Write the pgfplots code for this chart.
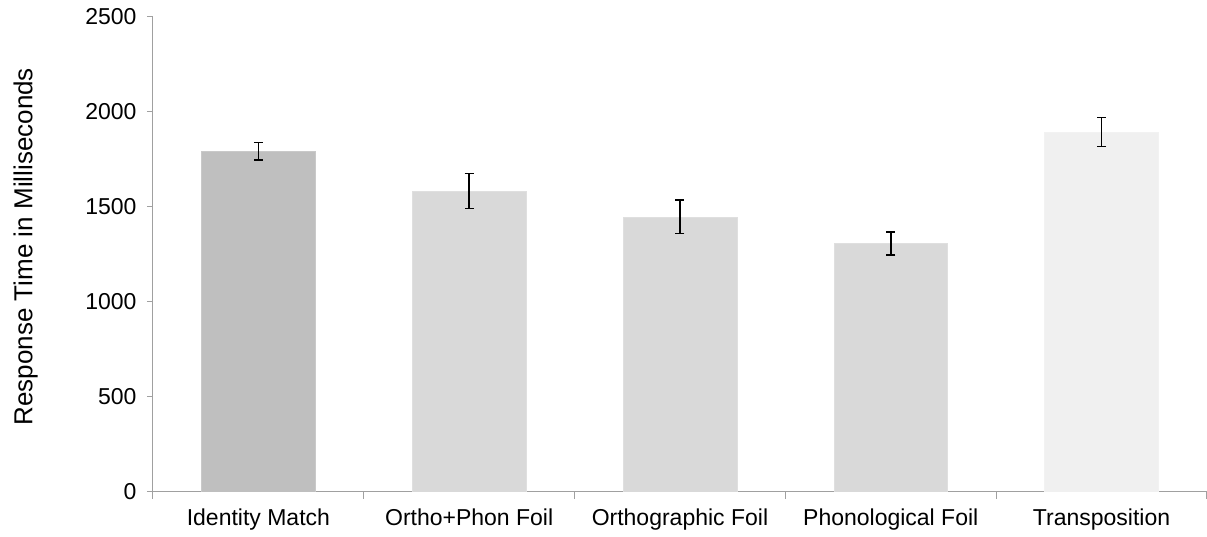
\documentclass[border=0pt]{standalone}
\usepackage{pgfplots}
\pgfplotsset{compat=1.18}
\usepackage{fontspec}
\setmainfont{Liberation Sans}
\definecolor{barA}{HTML}{BFBFBF}
\definecolor{barB}{HTML}{D9D9D9}
\definecolor{barC}{HTML}{F0F0F0}
\definecolor{axgray}{HTML}{A0A0A0}
\begin{document}
\begin{tikzpicture}
\begin{axis}[
  at={(0,0)}, anchor=south west,
  scale only axis, width=1054pt, height=475pt,
  ybar, bar width=0.54, bar shift=0pt,
  xmin=-0.5, xmax=4.5, ymin=0, ymax=2500,
  axis x line*=bottom, axis y line*=left,
  axis line style={axgray, line width=1pt},
  ytick={0,500,1000,1500,2000,2500},
  y tick style={axgray, line width=1pt},
  tick align=outside, major tick length=6pt, minor tick length=7pt,
  xtick={0,1,2,3,4},
  xticklabels={Identity Match, Ortho+Phon Foil, Orthographic Foil, Phonological Foil, Transposition},
  major x tick style={draw=none},
  minor xtick={-0.5,0.5,1.5,2.5,3.5,4.5},
  minor x tick style={axgray, line width=1pt},
  /pgf/number format/assume math mode=true,
  /pgf/number format/1000 sep={},
  tick label style={font=\fontsize{23}{26}\selectfont},
  xticklabel style={yshift=-8pt},
  yticklabel style={xshift=-7pt},
  ylabel={Response Time in Milliseconds},
  every axis y label/.style={at={(-153pt,245pt)}, rotate=90, yshift=-10pt, anchor=north, font=\fontsize{26}{29}\selectfont},
  error bars/y dir=both, error bars/y explicit,
  error bars/error mark options={rotate=90, mark size=4.5pt, line width=1.5pt, black},
  error bars/error bar style={line width=1.5pt, black},
]
\addplot[fill=barA, draw=barA!85!white] coordinates {(0,1793) +- (0,46)};
\addplot[fill=barB, draw=barB!85!white] coordinates {(1,1583) +- (0,92)};
\addplot[fill=barB, draw=barB!85!white] coordinates {(2,1447) +- (0,87)};
\addplot[fill=barB, draw=barB!85!white] coordinates {(3,1307) +- (0,60)};
\addplot[fill=barC, draw=barC!85!white] coordinates {(4,1893) +- (0,77)};
\end{axis}
\pgfresetboundingbox
\useasboundingbox (-153pt,-44.3pt) rectangle (1054pt,491.7pt);
\end{tikzpicture}
\end{document}
